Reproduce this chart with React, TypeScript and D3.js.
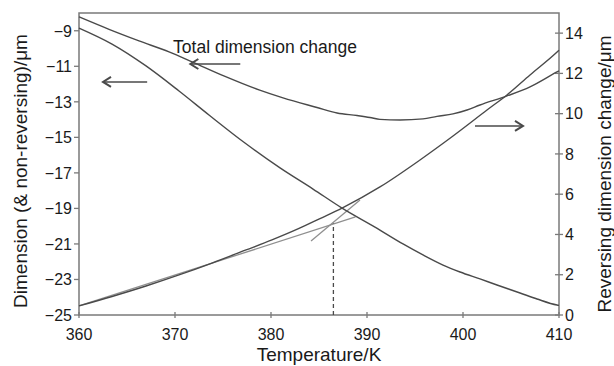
import React from "react";
import * as d3 from "d3";

// ---- data ----
const xTicks = [360, 370, 380, 390, 400, 410];
const leftTicks = [-25, -23, -21, -19, -17, -15, -13, -11, -9];
const rightTicks = [0, 2, 4, 6, 8, 10, 12, 14];

// Total dimension change (left axis)
const totalT = [360, 363.13, 366.25, 369.38, 371.77, 375.21, 378.75, 381.25, 384.79, 386.88, 388.96, 390.31, 391.35, 393.44, 395.83, 397.29, 398.96, 400.42, 401.77, 404.58, 406.98, 409.79, 410];
const totalV = [-8.22, -8.92, -9.57, -10.19, -10.75, -11.57, -12.33, -12.78, -13.32, -13.63, -13.77, -13.88, -13.99, -14.02, -13.96, -13.82, -13.68, -13.46, -13.18, -12.67, -12.16, -11.32, -11.26];

// Non-reversing dimension (left axis)
const nonRevT = [360, 363.44, 366.98, 370.42, 373.54, 377.29, 380.94, 384.38, 387.4, 390.83, 393.75, 395.83, 397.92, 399.69, 401.77, 403.54, 405.94, 407.71, 409.79, 410];
const nonRevV = [-8.85, -9.75, -10.98, -12.39, -13.74, -15.32, -16.72, -17.91, -18.98, -20.05, -21.0, -21.62, -22.19, -22.58, -22.97, -23.31, -23.76, -24.1, -24.44, -24.46];

// Reversing dimension change (right axis)
const revT = [360, 363.44, 366.98, 370.42, 373.85, 377.4, 380.1, 382.92, 385.1, 387.4, 391.35, 395.52, 398.96, 402.5, 404.58, 406.98, 409.8, 410];
const revV = [0.45, 0.92, 1.44, 1.99, 2.58, 3.23, 3.73, 4.3, 4.79, 5.31, 6.36, 7.7, 8.89, 10.18, 10.93, 11.92, 13.06, 13.15];

// Tangent lines (right axis)
const tangent1T = [360, 388.8];
const tangent1V = [0.45, 4.87];
const tangent2T = [384.17, 389.27];
const tangent2V = [3.68, 5.71];

// Onset temperature (dashed marker)
const onsetT = 386.5;
const onsetV = 4.55;

const labelText = "Total dimension change";
const xTitle = "Temperature/K";
const leftTitle = "Dimension (& non-reversing)/\u03bcm";
const rightTitle = "Reversing dimension change/\u03bcm";

export default function App() {
  const W = 614, H = 366;
  const x0 = 79, x1 = 559, y0 = 315, y1 = 13;
  const x = d3.scaleLinear().domain([360, 410]).range([x0, x1]);
  const yl = d3.scaleLinear().domain([-25, -8]).range([y0, y1]);
  const yr = d3.scaleLinear().domain([0, 15]).range([y0, y1]);

  const mkLine = (xs: number[], ys: number[], ys2: d3.ScaleLinear<number, number>, smooth = true) =>
    d3
      .line<number>()
      .x((_, i) => x(xs[i]))
      .y((_, i) => ys2(ys[i]))
      .curve(smooth ? d3.curveMonotoneX : d3.curveLinear)(xs) || "";

  const axisColor = "#7a7a7a";
  const curveColor = "#4a4a4a";
  const textColor = "#1a1a1a";
  const font = "Liberation Sans, Arial, Helvetica, sans-serif";

  const arrow = (xa: number, xb: number, yy: number, headAtB: boolean) => {
    const hx = headAtB ? xb : xa;
    const dir = headAtB ? -1 : 1;
    return (
      <g stroke={curveColor} strokeWidth={1.6} fill="none">
        <line x1={xa} y1={yy} x2={xb} y2={yy} />
        <path d={`M${hx + dir * 8},${yy - 5} L${hx},${yy} L${hx + dir * 8},${yy + 5}`} strokeWidth={2} />
      </g>
    );
  };

  return (
    <svg width={W} height={H} style={{ position: "absolute", left: 0, top: 0, background: "#fff" }} fontFamily={font}>
      {/* frame */}
      <rect x={x0} y={y1} width={x1 - x0} height={y0 - y1} fill="none" stroke={axisColor} strokeWidth={1.5} />

      {/* bottom ticks */}
      {xTicks.map((t) => (
        <g key={"xt" + t}>
          <line x1={x(t)} x2={x(t)} y1={y0 - 3} y2={y0 + 3} stroke={axisColor} strokeWidth={1.3} />
          <text x={x(t)} y={y0 + 25} textAnchor="middle" fontSize={16} fill={textColor}>{t}</text>
        </g>
      ))}
      {/* left ticks */}
      {leftTicks.map((t) => (
        <g key={"lt" + t}>
          <line x1={x0 - 5} x2={x0} y1={yl(t)} y2={yl(t)} stroke={axisColor} strokeWidth={1.3} />
          <text x={x0 - 7} y={yl(t)} dy="0.36em" textAnchor="end" fontSize={16} fill={textColor}>{"\u2212" + Math.abs(t)}</text>
        </g>
      ))}
      {/* right ticks */}
      {rightTicks.map((t) => (
        <g key={"rt" + t}>
          <line x1={x1 - 4} x2={x1 + 4} y1={yr(t)} y2={yr(t)} stroke={axisColor} strokeWidth={1.3} />
          <text x={x1 + 6} y={yr(t)} dy="0.36em" textAnchor="start" fontSize={16} fill={textColor}>{t}</text>
        </g>
      ))}

      {/* titles */}
      <text x={(x0 + x1) / 2} y={361} textAnchor="middle" fontSize={19} fill={textColor}>{xTitle}</text>
      <text transform={`translate(27,171) rotate(-90)`} textAnchor="middle" fontSize={19} fill={textColor}>{leftTitle}</text>
      <text transform={`translate(611,174) rotate(-90)`} textAnchor="middle" fontSize={19} fill={textColor}>{rightTitle}</text>

      {/* tangent lines */}
      <path d={mkLine(tangent1T, tangent1V, yr, false)} fill="none" stroke="#8f8f8f" strokeWidth={1.3} />
      <path d={mkLine(tangent2T, tangent2V, yr, false)} fill="none" stroke="#8f8f8f" strokeWidth={1.3} />

      {/* dashed onset marker */}
      <line x1={x(onsetT)} x2={x(onsetT)} y1={yr(0)} y2={yr(onsetV)} stroke={curveColor} strokeWidth={1.3} strokeDasharray="4,3" />

      {/* curves */}
      <path d={mkLine(totalT, totalV, yl)} fill="none" stroke={curveColor} strokeWidth={1.4} />
      <path d={mkLine(nonRevT, nonRevV, yl)} fill="none" stroke={curveColor} strokeWidth={1.4} />
      <path d={mkLine(revT, revV, yr)} fill="none" stroke={curveColor} strokeWidth={1.4} />

      {/* annotations */}
      <text x={x(369.8)} y={yl(-10.25)} fontSize={17.5} fill={textColor}>{labelText}</text>
      {arrow(x(371.6), x(376.8), yl(-10.87), false)}
      {arrow(x(362.5), x(367.1), yl(-11.88), false)}
      {arrow(x(401.25), x(406.25), yr(9.39), true)}
    </svg>
  );
}
